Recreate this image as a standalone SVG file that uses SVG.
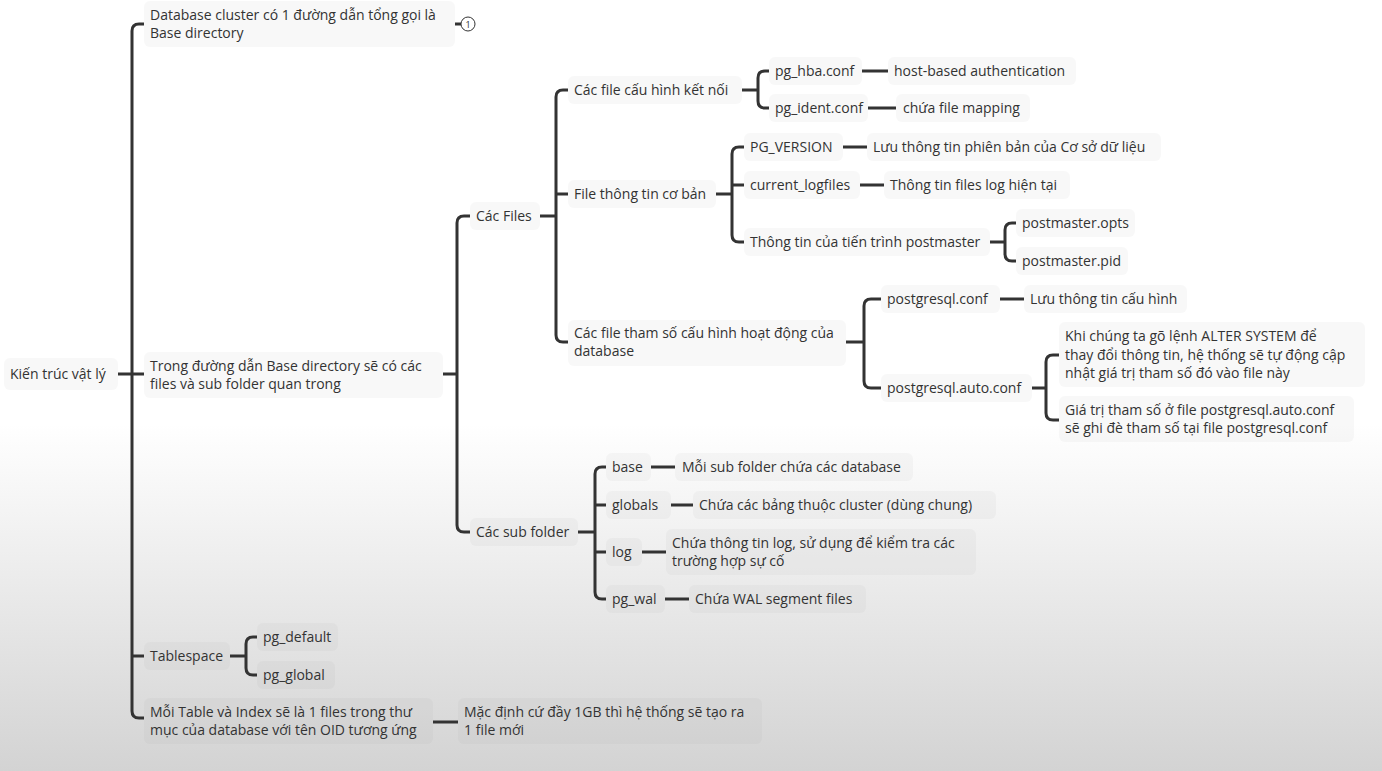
<svg xmlns="http://www.w3.org/2000/svg" width="1382" height="771" viewBox="0 0 1382 771">
<defs>
<linearGradient id="bg" x1="0" y1="0" x2="0" y2="1">
<stop offset="0" stop-color="#ffffff"/>
<stop offset="0.55" stop-color="#ffffff"/>
<stop offset="1" stop-color="#d3d3d3"/>
</linearGradient>
<style>
text{font-family:"Open Sans","Noto Sans",sans-serif;font-size:14px;fill:#333}
.b{fill:#7a7a7a;fill-opacity:0.055}
.c{fill:none;stroke:#333;stroke-width:3;stroke-linecap:butt}
</style>
</defs>
<rect width="1382" height="771" fill="url(#bg)"/>
<g id="connectors">
<path class="c" d="M118,374 H132 M144,24 H139 Q132,24 132,31 V711 Q132,718 139,718 H144 M132,374 H144 M132,656 H144"/>
<path class="c" d="M455,24 H461"/>
<path class="c" d="M443,374 H457 M470,216 H464 Q457,216 457,223 V525 Q457,532 464,532 H470"/>
<path class="c" d="M540,216 H556 M568,90 H563 Q556,90 556,97 V335 Q556,342 563,342 H568 M556,194 H568"/>
<path class="c" d="M742,90 H758 M769,71 H765 Q758,71 758,78 V101 Q758,108 765,108 H769"/>
<path class="c" d="M862,71 H888 M868,108 H896"/>
<path class="c" d="M716,194 H732 M744,147 H739 Q732,147 732,154 V235 Q732,242 739,242 H744 M732,185 H744"/>
<path class="c" d="M843,147 H867 M860,185 H884"/>
<path class="c" d="M990,242 H1005 M1016,223 H1012 Q1005,223 1005,230 V254 Q1005,261 1012,261 H1016"/>
<path class="c" d="M846,342 H864 M881,299 H871 Q864,299 864,306 V381 Q864,388 871,388 H881"/>
<path class="c" d="M1000,299 H1024"/>
<path class="c" d="M1032,388 H1046 M1059,355 H1053 Q1046,355 1046,362 V413 Q1046,420 1053,420 H1059"/>
<path class="c" d="M578,532 H595 M606,467 H602 Q595,467 595,474 V592 Q595,599 602,599 H606 M595,505 H606 M595,552 H606"/>
<path class="c" d="M651,467 H675 M671,505 H693 M642,552 H666 M665,599 H689"/>
<path class="c" d="M230,656 H246 M257,637 H253 Q246,637 246,644 V668 Q246,675 253,675 H257"/>
<path class="c" d="M433,722 H458"/>
</g>
<g id="n-root"><rect class="b" x="4" y="358" width="114" height="32" rx="6"/><text x="10" y="379">Kiến trúc vật lý</text></g>
<g id="n-db"><rect class="b" x="144" y="1" width="311" height="46" rx="6"/><text x="150" y="20">Database cluster có 1 đường dẫn tổng gọi là</text><text x="150" y="38">Base directory</text></g>
<g id="n-badge"><circle cx="468" cy="24" r="7" fill="#fff" stroke="#333" stroke-width="1"/><text x="468" y="27.5" text-anchor="middle" style="font-size:9px">1</text></g>
<g id="n-trong"><rect class="b" x="144" y="352" width="299" height="46" rx="6"/><text x="150" y="371">Trong đường dẫn Base directory sẽ có các</text><text x="150" y="389">files và sub folder quan trong</text></g>
<g id="n-files"><rect class="b" x="470" y="202" width="70" height="28" rx="6"/><text x="476" y="221">Các Files</text></g>
<g id="n-ketnoi"><rect class="b" x="568" y="76" width="174" height="28" rx="6"/><text x="574" y="95">Các file cấu hình kết nối</text></g>
<g id="n-hba"><rect class="b" x="769" y="57" width="93" height="28" rx="6"/><text x="775" y="76">pg_hba.conf</text></g>
<g id="n-hba-d"><rect class="b" x="888" y="57" width="188" height="28" rx="6"/><text x="894" y="76">host-based authentication</text></g>
<g id="n-ident"><rect class="b" x="769" y="94" width="99" height="28" rx="6"/><text x="775" y="113">pg_ident.conf</text></g>
<g id="n-ident-d"><rect class="b" x="896" y="94" width="134" height="28" rx="6"/><text x="903" y="113">chứa file mapping</text></g>
<g id="n-coban"><rect class="b" x="568" y="180" width="148" height="28" rx="6"/><text x="574" y="199">File thông tin cơ bản</text></g>
<g id="n-pgver"><rect class="b" x="744" y="133" width="99" height="28" rx="6"/><text x="750" y="152">PG_VERSION</text></g>
<g id="n-pgver-d"><rect class="b" x="867" y="133" width="294" height="28" rx="6"/><text x="873" y="152">Lưu thông tin phiên bản của Cơ sở dữ liệu</text></g>
<g id="n-curlog"><rect class="b" x="744" y="171" width="116" height="28" rx="6"/><text x="750" y="190">current_logfiles</text></g>
<g id="n-curlog-d"><rect class="b" x="884" y="171" width="186" height="28" rx="6"/><text x="890" y="190">Thông tin files log hiện tại</text></g>
<g id="n-pm"><rect class="b" x="744" y="228" width="246" height="28" rx="6"/><text x="750" y="247">Thông tin của tiến trình postmaster</text></g>
<g id="n-pmopts"><rect class="b" x="1016" y="209" width="119" height="28" rx="6"/><text x="1022" y="228">postmaster.opts</text></g>
<g id="n-pmpid"><rect class="b" x="1016" y="247" width="112" height="28" rx="6"/><text x="1022" y="266">postmaster.pid</text></g>
<g id="n-thamso"><rect class="b" x="568" y="320" width="278" height="46" rx="6"/><text x="574" y="338">Các file tham số cấu hình hoạt động của</text><text x="574" y="356">database</text></g>
<g id="n-pgconf"><rect class="b" x="881" y="285" width="119" height="28" rx="6"/><text x="887" y="304">postgresql.conf</text></g>
<g id="n-pgconf-d"><rect class="b" x="1024" y="285" width="163" height="28" rx="6"/><text x="1030" y="304">Lưu thông tin cấu hình</text></g>
<g id="n-auto"><rect class="b" x="881" y="374" width="151" height="28" rx="6"/><text x="887" y="393">postgresql.auto.conf</text></g>
<g id="n-auto-1"><rect class="b" x="1059" y="322" width="306" height="65" rx="6"/><text x="1065" y="341">Khi chúng ta gõ lệnh ALTER SYSTEM để</text><text x="1065" y="360">thay đổi thông tin, hệ thống sẽ tự động cập</text><text x="1065" y="378">nhật giá trị tham số đó vào file này</text></g>
<g id="n-auto-2"><rect class="b" x="1059" y="396" width="295" height="46" rx="6"/><text x="1065" y="415">Giá trị tham số ở file postgresql.auto.conf</text><text x="1065" y="433">sẽ ghi đè tham số tại file postgresql.conf</text></g>
<g id="n-sub"><rect class="b" x="470" y="518" width="108" height="28" rx="6"/><text x="476" y="537">Các sub folder</text></g>
<g id="n-base"><rect class="b" x="606" y="453" width="45" height="28" rx="6"/><text x="612" y="472">base</text></g>
<g id="n-base-d"><rect class="b" x="675" y="453" width="238" height="28" rx="6"/><text x="682" y="472">Mỗi sub folder chứa các database</text></g>
<g id="n-glob"><rect class="b" x="606" y="491" width="65" height="28" rx="6"/><text x="612" y="510">globals</text></g>
<g id="n-glob-d"><rect class="b" x="693" y="491" width="303" height="28" rx="6"/><text x="699" y="510">Chứa các bảng thuộc cluster (dùng chung)</text></g>
<g id="n-log"><rect class="b" x="606" y="538" width="36" height="28" rx="6"/><text x="612" y="557">log</text></g>
<g id="n-log-d"><rect class="b" x="666" y="529" width="310" height="46" rx="6"/><text x="672" y="548">Chứa thông tin log, sử dụng để kiểm tra các</text><text x="672" y="566">trường hợp sự cố</text></g>
<g id="n-wal"><rect class="b" x="606" y="585" width="59" height="28" rx="6"/><text x="612" y="604">pg_wal</text></g>
<g id="n-wal-d"><rect class="b" x="689" y="585" width="177" height="28" rx="6"/><text x="695" y="604">Chứa WAL segment files</text></g>
<g id="n-ts"><rect class="b" x="144" y="642" width="86" height="28" rx="6"/><text x="150" y="661">Tablespace</text></g>
<g id="n-pgdef"><rect class="b" x="257" y="623" width="81" height="28" rx="6"/><text x="263" y="642">pg_default</text></g>
<g id="n-pgglob"><rect class="b" x="257" y="661" width="78" height="28" rx="6"/><text x="263" y="680">pg_global</text></g>
<g id="n-table"><rect class="b" x="144" y="698" width="289" height="46" rx="6"/><text x="150" y="717">Mỗi Table và Index sẽ là 1 files trong thư</text><text x="150" y="735">mục của database với tên OID tương ứng</text></g>
<g id="n-table-d"><rect class="b" x="458" y="698" width="304" height="46" rx="6"/><text x="464" y="717">Mặc định cứ đầy 1GB thì hệ thống sẽ tạo ra</text><text x="464" y="735">1 file mới</text></g>
</svg>
